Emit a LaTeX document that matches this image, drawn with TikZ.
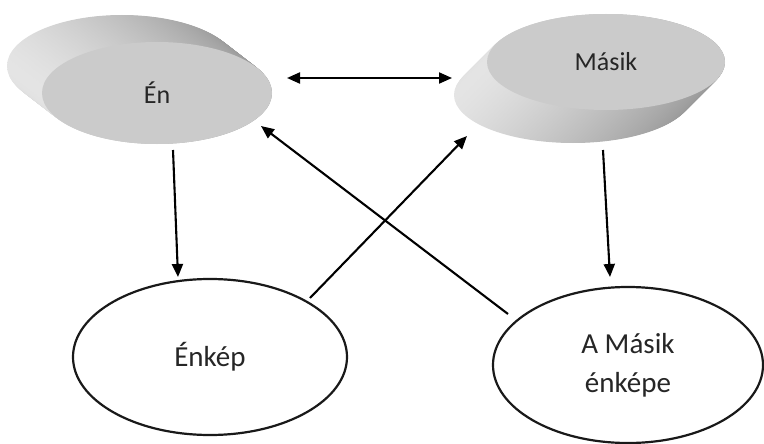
\documentclass[tikz,border=0pt]{standalone}
\usepackage{fontspec}
\setmainfont{Carlito}
\usetikzlibrary{arrows.meta,shapes.geometric}
\definecolor{faceGray}{RGB}{203,203,203}
\definecolor{sideLight}{RGB}{228,228,228}
\definecolor{sideDark}{RGB}{150,150,150}
\definecolor{txt}{RGB}{38,38,38}
\begin{document}
\begin{tikzpicture}[x=1pt,y=-1pt,
  conn/.style={line width=2.1pt,-{Triangle[length=13pt,width=11pt]}},
  dconn/.style={line width=2.1pt,{Triangle[length=13pt,width=11pt]}-{Triangle[length=13pt,width=11pt]}},
  face/.style={ellipse,fill=faceGray,inner sep=0pt,text=txt,font=\fontsize{26}{31}\selectfont},
  bubble/.style={ellipse,draw=black!90,line width=2.2pt,fill=white,inner sep=0pt,
    text=txt,align=center,font=\fontsize{29}{39}\selectfont}]
\useasboundingbox (0,0) rectangle (764,444);

% extruded side of "Én"
\foreach \t in {60,59,...,0}{
  \shade[left color=sideLight,right color=sideDark]
    ({157-35*\t/60},{93-27*\t/60}) ellipse [x radius=115,y radius=51];
}
\node[face,minimum width=230pt,minimum height=102pt] (en) at (157,93) {Én};

% extruded side of "Másik"
\foreach \t in {60,59,...,0}{
  \shade[left color=sideLight,right color=sideDark]
    ({606-33*\t/60},{62+33*\t/60}) ellipse [x radius=119,y radius=48];
}
\node[face,minimum width=238pt,minimum height=96pt] (masik) at (606,62) {Másik};

\node[bubble,minimum width=274pt,minimum height=156pt] (enkep) at (210,357) {Énkép};
\node[bubble,minimum width=270pt,minimum height=156pt] (menkep) at (628,365) {A Másik\\énképe};

\coordinate (d1) at (287,78);
\coordinate (d2) at (452,78);
\coordinate (a1s) at (173,150);
\coordinate (a1e) at (178,277);
\coordinate (a2s) at (603,150);
\coordinate (a2e) at (610,277);
\coordinate (a3s) at (310,298);
\coordinate (a3e) at (467,136);
\coordinate (a4s) at (508,314);
\coordinate (a4e) at (261,126);

\draw[dconn] (d1) -- (d2);
\draw[conn] (a1s) -- (a1e);
\draw[conn] (a2s) -- (a2e);
\draw[conn] (a3s) -- (a3e);
\draw[conn] (a4s) -- (a4e);
\end{tikzpicture}
\end{document}
